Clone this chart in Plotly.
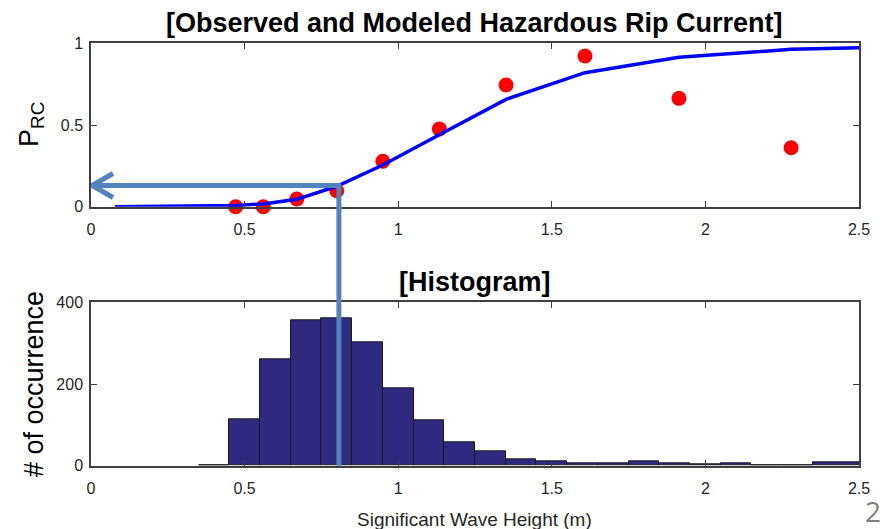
import plotly.graph_objects as go

# ---- data ----
obs_hs = [0.471, 0.561, 0.670, 0.800, 0.950, 1.134, 1.351, 1.608, 1.914, 2.279]
obs_prc = [0.0, 0.0, 0.047, 0.098, 0.278, 0.476, 0.745, 0.922, 0.663, 0.361]

model_hs = [0.078, 0.471, 0.561, 0.670, 0.800, 0.950, 1.134, 1.351, 1.608, 1.914, 2.279, 2.5]
model_prc = [0.0, 0.008, 0.017, 0.045, 0.125, 0.255, 0.44, 0.657, 0.82, 0.914, 0.963, 0.973]

hist_centers = [0.4, 0.5, 0.6, 0.7, 0.8, 0.9, 1.0, 1.1, 1.2, 1.3, 1.4, 1.5, 1.6, 1.7,
                1.8, 1.9, 2.0, 2.1, 2.2, 2.3, 2.45]
hist_widths = [0.1] * 20 + [0.2]
hist_counts = [2, 113, 260, 356, 362, 301, 189, 110, 58, 36, 15, 11, 6, 5,
               11, 5, 4, 5, 2, 2, 9]

x_ticks = [0, 0.5, 1, 1.5, 2, 2.5]
x_tick_text = ["0", "0.5", "1", "1.5", "2", "2.5"]
top_y_ticks = [0, 0.5, 1]
top_y_text = ["0", "0.5", "1"]
bot_y_ticks = [0, 200, 400]

arrow_x = 0.807
arrow_y = 0.13

title_top = "[Observed and Modeled Hazardous Rip Current]"
title_bot = "[Histogram]"
xlabel = "Significant Wave Height (m)"
ylabel_top = "P<sub>RC</sub>"
ylabel_bot = "# of occurrence"
slide_no = "2"

W, H = 883, 529
top_dom = [1 - 206.7 / H, 1 - 43.3 / H]
bot_dom = [1 - 465.7 / H, 1 - 302.3 / H]
x_dom = [91 / W, 859 / W]

AX = "#404040"
TICKC = "#262626"
ARROW = "#5183bf"
FONT = "Liberation Sans"

fig = go.Figure()

fig.add_trace(go.Bar(
    x=hist_centers, y=hist_counts, width=hist_widths,
    marker=dict(color="#2f2a7f", line=dict(color="#1a1a1a", width=1)),
    xaxis="x2", yaxis="y2", showlegend=False, hoverinfo="skip"))

fig.add_trace(go.Scatter(
    x=obs_hs, y=obs_prc, mode="markers",
    marker=dict(color="#ff0000", size=15, line=dict(width=0)),
    xaxis="x", yaxis="y", showlegend=False, cliponaxis=False))

fig.add_trace(go.Scatter(
    x=model_hs, y=model_prc, mode="lines",
    line=dict(color="#0000ff", width=3.5),
    xaxis="x", yaxis="y", showlegend=False, cliponaxis=False))

common_x = dict(range=[0, 2.5], tickvals=x_ticks, ticktext=x_tick_text,
                ticks="inside", ticklen=6, tickcolor=AX, tickwidth=1,
                showline=True, linecolor=AX, linewidth=1.5, mirror="ticks",
                showgrid=False, zeroline=False, automargin=False,
                ticklabelstandoff=7,
                tickfont=dict(family=FONT, size=16, color=TICKC),
                domain=x_dom, fixedrange=True)
common_y = dict(ticks="inside", ticklen=6, tickcolor=AX, tickwidth=1,
                showline=True, linecolor=AX, linewidth=1.5, mirror="ticks",
                showgrid=False, zeroline=False, automargin=False,
                ticklabelstandoff=3,
                tickfont=dict(family=FONT, size=16, color=TICKC), fixedrange=True)

fig.update_layout(
    width=W, height=H,
    margin=dict(l=0, r=0, t=0, b=0, autoexpand=False),
    paper_bgcolor="white", plot_bgcolor="white",
    bargap=0,
    xaxis=dict(**common_x, anchor="y"),
    yaxis=dict(**common_y, domain=top_dom, range=[0, 1], tickvals=top_y_ticks,
               ticktext=top_y_text, anchor="x"),
    xaxis2=dict(**common_x, anchor="y2"),
    yaxis2=dict(**common_y, domain=bot_dom, range=[0, 400], tickvals=bot_y_ticks,
                anchor="x2"),
)

# subplot titles
for txt, dom in [(title_top, top_dom), (title_bot, bot_dom)]:
    fig.add_annotation(text="<b>" + txt + "</b>",
                       xref="paper", yref="paper", x=sum(x_dom) / 2, y=dom[1],
                       yanchor="bottom", yshift=3, showarrow=False,
                       font=dict(family=FONT, size=27, color="#000000"))

# axis labels
fig.add_annotation(text=ylabel_top, xref="paper", yref="paper",
                   x=31 / W, y=sum(top_dom) / 2, textangle=-90,
                   xanchor="center", yanchor="middle", showarrow=False,
                   font=dict(family=FONT, size=27, color="#000000"))
fig.add_annotation(text=ylabel_bot, xref="paper", yref="paper",
                   x=34 / W, y=sum(bot_dom) / 2, textangle=-90,
                   xanchor="center", yanchor="middle", showarrow=False,
                   font=dict(family=FONT, size=27, color="#000000"))
fig.add_annotation(text=xlabel, xref="paper", yref="paper",
                   x=sum(x_dom) / 2, y=1 - 519 / H,
                   xanchor="center", yanchor="middle", showarrow=False,
                   font=dict(family=FONT, size=19, color=TICKC))

# slide number
fig.add_annotation(text=slide_no, xref="paper", yref="paper", x=1, y=0,
                   xanchor="right", yanchor="bottom", xshift=0, yshift=-3, showarrow=False,
                   font=dict(family="Open Sans", size=28, color="#7f7f7f"))

# arrow: horizontal line from model point to y-axis, with open chevron head
fig.add_shape(type="line", xref="x", yref="y", x0=arrow_x, x1=0.003,
              y0=arrow_y, y1=arrow_y, line=dict(color=ARROW, width=5))
fig.add_shape(type="path", xref="x", yref="y", xsizemode="pixel", ysizemode="pixel",
              xanchor=0, yanchor=arrow_y,
              path="M 22,12 L 1,0 L 22,-12", line=dict(color=ARROW, width=5))
# vertical line from model point down to the histogram base
fig.add_shape(type="line", xref="x", yref="paper", x0=arrow_x, x1=arrow_x,
              y0=bot_dom[0], y1=top_dom[0] + arrow_y * (top_dom[1] - top_dom[0]) + 0.004,
              line=dict(color=ARROW, width=5))

fig.write_html("out.html")
